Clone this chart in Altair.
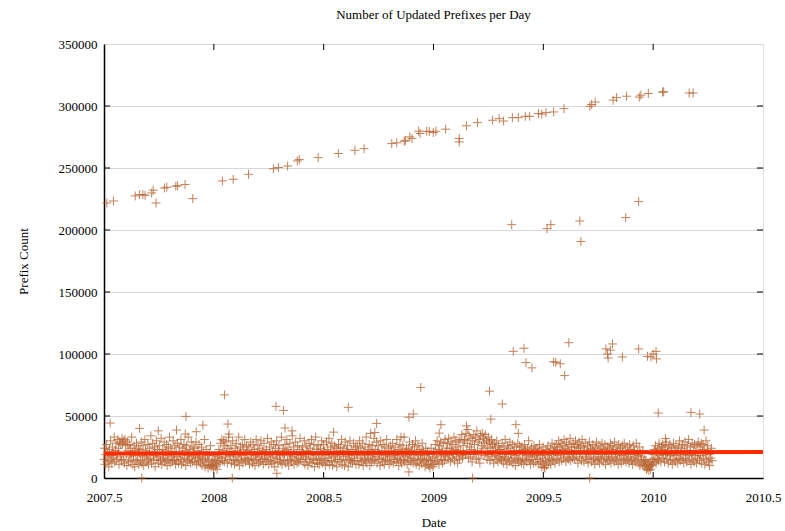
import altair as alt
import pandas as pd

# Daily counts of updated prefixes (thousands), one row per day from 2007-07-01
daily_k = [
    15, 24, 11, 19, 27, 13, 21, 17, 9, 23, 14, 30, 18, 12, 25, 16, 20, 33, 13, 22, 28, 15, 19, 31, 24, 11, 29, 17, 27, 14,
    32, 28, 15, 30, 12, 31, 26, 19, 10, 29, 22, 13, 27, 17, 24, 14, 33, 21, 11, 18, 26, 9, 22, 15, 28, 13, 19, 24, 11, 20,
    23, 14, 29, 12, 18, 26, 10, 17, 31, 22, 13, 20, 15, 27, 11, 19, 24, 16, 34, 12, 21, 28, 14, 18, 25, 9, 20, 30, 15, 23,
    17, 12, 26, 20, 14, 32, 11, 19, 23, 16, 29, 13, 22, 15, 27, 10, 18, 25, 14, 33, 12, 24, 17, 21, 13, 30, 19, 15, 26, 11,
    21, 14, 28, 17, 12, 25, 20, 15, 31, 11, 19, 24, 13, 27, 16, 22, 10, 26, 18, 14, 33, 20, 15, 23, 12, 29, 17, 13, 25, 19,
    24, 13, 18, 29, 11, 16, 22, 14, 27, 19, 12, 17, 25, 10, 15, 21, 13, 31, 9, 16, 23, 11, 18, 8, 14, 20, 10, 26, 9, 13,
    10, 15, 8, 12, 18, 9, 14, 11, 7, 17, 13, 23, 19, 12, 28, 16, 31, 14, 22, 30, 13, 26, 17, 29, 20, 12, 24, 33, 15, 21,
    18, 26, 12, 21, 30, 14, 19, 11, 24, 17, 28, 13, 22, 15, 33, 10, 20, 25, 14, 18, 27, 12, 23, 16, 31, 13, 19, 26, 15, 22,
    14, 25, 11, 19, 29, 16, 21, 12, 27, 15, 23, 10, 18, 31, 14, 20, 26, 12, 17, 24, 13, 30, 19, 15, 22, 11, 28, 16, 20, 13,
    23, 15, 32, 18, 11, 25, 20, 14, 29, 12, 21, 17, 27, 13, 9, 24, 16, 30, 19, 12, 22, 26, 15, 18, 13, 33, 11, 20, 24, 14,
    19, 27, 12, 22, 31, 14, 23, 10, 18, 28, 15, 21, 13, 34, 17, 25, 11, 20, 29, 14, 19, 12, 26, 16, 13, 23, 32, 15, 18, 21,
    25, 13, 19, 30, 11, 17, 26, 15, 22, 10, 20, 28, 13, 24, 16, 31, 12, 21, 15, 27, 9, 18, 33, 14, 23, 12, 26, 19, 11, 16,
    24, 15, 30, 12, 20, 27, 14, 22, 10, 18, 29, 13, 23, 16, 32, 11, 19, 25, 14, 28, 10, 21, 17, 26, 13, 18, 24, 9, 15, 22,
    27, 13, 19, 25, 15, 31, 11, 21, 17, 24, 10, 29, 14, 22, 18, 26, 9, 20, 15, 30, 13, 23, 16, 12, 21, 28, 14, 18, 25, 11,
    20, 26, 14, 22, 11, 30, 16, 24, 13, 18, 28, 10, 21, 15, 25, 14, 33, 12, 19, 23, 16, 27, 10, 18, 22, 13, 26, 15, 20, 32,
    14, 23, 17, 29, 12, 21, 26, 15, 19, 10, 30, 16, 22, 13, 27, 18, 11, 25, 15, 20, 31, 14, 19, 24, 11, 17, 26, 13, 22, 18,
    28, 12, 21, 15, 25, 19, 13, 31, 16, 23, 10, 18, 27, 14, 22, 12, 20, 26, 15, 33, 13, 21, 17, 24, 11, 18, 23, 14, 29, 19,
    13, 22, 16, 27, 12, 19, 25, 15, 30, 11, 21, 14, 26, 18, 10, 23, 15, 20, 12, 28, 16, 22, 13, 18, 9, 24, 14, 11, 21, 15,
    10, 19, 8, 14, 24, 11, 16, 9, 21, 12, 17, 27, 13, 20, 30, 14, 23, 11, 26, 18, 29, 15, 22, 12, 28, 19, 14, 31, 17, 24,
    21, 28, 15, 32, 18, 24, 13, 29, 22, 16, 27, 19, 33, 14, 23, 30, 17, 25, 12, 21, 29, 15, 31, 22, 18, 35, 16, 26, 20, 30,
    31, 19, 36, 21, 28, 39, 16, 34, 25, 17, 32, 23, 13, 30, 19, 35, 27, 20, 33, 15, 38, 22, 29, 16, 31, 12, 34, 20, 26, 36,
    24, 32, 18, 28, 35, 20, 30, 15, 25, 33, 19, 29, 14, 24, 31, 17, 27, 22, 12, 28, 18, 25, 15, 30, 21, 13, 26, 17, 23, 16,
    23, 14, 28, 19, 12, 25, 17, 31, 15, 21, 11, 26, 16, 24, 13, 29, 20, 14, 19, 27, 12, 22, 16, 25, 10, 18, 22, 15, 28, 13,
    20, 26, 14, 22, 12, 25, 16, 21, 11, 27, 15, 23, 18, 13, 24, 19, 30, 14, 22, 11, 17, 25, 15, 20, 12, 26, 18, 23, 13, 19,
    24, 15, 21, 11, 27, 18, 13, 22, 9, 16, 25, 12, 19, 8, 14, 23, 10, 18, 26, 13, 20, 15, 24, 11, 19, 28, 14, 22, 16, 25,
    12, 21, 27, 15, 23, 18, 30, 13, 25, 19, 28, 14, 22, 26, 16, 31, 20, 24, 13, 29, 17, 23, 15, 27, 19, 32, 14, 25, 21, 16,
    28, 19, 25, 15, 30, 22, 17, 27, 12, 24, 29, 16, 21, 26, 14, 31, 19, 25, 13, 22, 28, 17, 20, 15, 26, 12, 21, 29, 16, 24,
    19, 13, 23, 27, 15, 21, 11, 25, 17, 29, 14, 22, 16, 26, 12, 19, 24, 15, 28, 20, 13, 23, 17, 27, 11, 21, 16, 25, 14, 19,
    24, 15, 28, 12, 20, 26, 17, 23, 13, 29, 16, 21, 14, 25, 19, 11, 27, 20, 15, 24, 12, 18, 26, 21, 14, 28, 16, 22, 13, 19,
    25, 15, 21, 12, 27, 17, 23, 14, 20, 11, 26, 16, 22, 13, 19, 28, 15, 21, 12, 18, 25, 10, 20, 14, 17, 11, 22, 13, 9, 15,
    10, 14, 7, 12, 8, 11, 6, 9, 13, 7, 10, 15, 11, 19, 13, 23, 16, 26, 12, 21, 15, 24, 14, 28, 18, 22, 13, 25, 19, 27,
    16, 23, 13, 26, 19, 29, 15, 21, 12, 25, 18, 27, 14, 20, 24, 11, 19, 28, 15, 22, 13, 26, 18, 21, 12, 25, 16, 30, 14, 20,
    24, 15, 27, 19, 12, 22, 29, 16, 21, 13, 26, 18, 31, 14, 20, 25, 11, 19, 28, 15, 22, 13, 27, 18, 21, 12, 26, 16, 29, 20,
    14, 25, 18, 28, 12, 21, 27, 16, 23, 11, 20, 30, 15, 22, 26, 13, 19, 10, 21, 16, 24, 14,
]

# Upper band: full-table size reports (decimal year, thousands)
upper_year = [
    2007.513, 2007.543, 2007.642, 2007.662, 2007.677, 2007.687, 2007.717, 2007.724, 2007.737, 2007.775,
    2007.786, 2007.827, 2007.835, 2007.869, 2007.904, 2008.039, 2008.088, 2008.158, 2008.271, 2008.294,
    2008.336, 2008.380, 2008.389, 2008.475, 2008.567, 2008.642, 2008.684, 2008.810, 2008.833, 2008.867,
    2008.872, 2008.892, 2008.902, 2008.932, 2008.939, 2008.969, 2008.981, 2008.999, 2009.011, 2009.055,
    2009.117, 2009.117, 2009.150, 2009.200, 2009.269, 2009.299, 2009.319, 2009.359, 2009.386, 2009.418,
    2009.438, 2009.478, 2009.493, 2009.512, 2009.547, 2009.594, 2009.712, 2009.720, 2009.736, 2009.818,
    2009.833, 2009.879, 2009.937, 2009.944, 2009.978, 2010.043, 2010.048, 2010.164, 2010.182,
]
upper_k = [
    221.8, 223.4, 227.5, 228.5, 228.5, 228.0, 229.9, 232.1, 221.8, 233.9,
    234.5, 235.3, 235.7, 236.7, 225.3, 239.6, 240.9, 244.9, 249.4, 250.4,
    251.6, 255.7, 256.8, 258.4, 261.7, 264.3, 265.6, 269.7, 270.3, 271.6,
    272.3, 275.1, 273.8, 279.7, 277.8, 279.7, 279.3, 278.6, 279.7, 281.3,
    273.8, 271.0, 284.0, 286.6, 288.5, 289.8, 287.9, 290.6, 290.6, 291.7,
    291.7, 293.9, 293.5, 294.7, 295.2, 297.9, 299.8, 301.2, 303.2, 304.7,
    306.8, 307.9, 307.2, 308.7, 310.1, 311.1, 311.6, 310.5, 310.5,
]

# Isolated readings away from the two bands (decimal year, thousands)
mid_year = [
    2009.356, 2009.517, 2009.534, 2009.666, 2009.671, 2009.875, 2009.934,
    2009.363, 2009.412, 2009.421, 2009.448, 2009.547, 2009.557, 2009.577, 2009.597, 2009.616,
    2009.785, 2009.792, 2009.795, 2009.805, 2009.815, 2009.860, 2009.934, 2009.974, 2009.990,
    2010.000, 2010.013, 2010.015,
    2007.528, 2007.662, 2007.747, 2007.830, 2007.873, 2007.870, 2007.920, 2007.950, 2008.049,
    2008.064, 2008.069, 2008.283, 2008.317, 2008.324, 2008.356, 2008.545, 2008.612, 2008.714,
    2008.733, 2008.741, 2008.852, 2008.888, 2008.908, 2008.942, 2009.026, 2009.034, 2009.150,
    2009.255, 2009.261, 2009.313, 2009.375, 2009.386, 2010.023, 2010.056, 2010.172, 2010.212,
    2010.232,
    2007.672, 2008.084, 2008.287, 2008.888, 2009.178, 2009.711, 2009.504,
]
mid_k = [
    204.3, 201.1, 204.3, 207.3, 190.7, 210.0, 222.9,
    102.1, 104.6, 93.1, 88.8, 93.8, 93.3, 92.1, 82.6, 109.1,
    104.1, 100.0, 96.8, 103.1, 108.1, 97.6, 104.1, 98.1, 97.6,
    100.0, 102.1, 96.1,
    44.3, 40.0, 38.0, 38.6, 49.7, 35.4, 37.3, 42.7, 67.0,
    43.5, 35.4, 57.8, 54.5, 40.3, 38.0, 37.0, 57.0, 36.0,
    36.7, 44.0, 33.0, 49.0, 51.6, 73.0, 36.2, 43.0, 42.0,
    70.0, 47.5, 59.7, 43.0, 36.0, 52.4, 31.8, 52.9, 51.6,
    38.6,
    0.0, 0.0, 3.8, 4.9, 0.0, 0.0, 8.4,
]

# Least-squares trend of the daily counts
trend_year = [2007.5, 2010.5]
trend_count = [19700, 21000]

x_ticks = [2007.5, 2008, 2008.5, 2009, 2009.5, 2010, 2010.5]
y_ticks = [0, 50000, 100000, 150000, 200000, 250000, 300000, 350000]

W, H = 659, 434
FONT = "Liberation Serif"
POINT_COLOR = "#b8622f"

years = [2007.5 + i / 365.25 for i in range(len(daily_k))] + upper_year + mid_year
counts = [k * 1000 for k in daily_k + upper_k + mid_k]
points = pd.DataFrame({"year": years, "count": counts})
trend = pd.DataFrame({"year": trend_year, "count": trend_count})

x_scale = alt.Scale(domain=[2007.5, 2010.5], nice=False, zero=False)
y_scale = alt.Scale(domain=[0, 350000], nice=False)

x_axis = alt.Axis(
    values=x_ticks, labelExpr="datum.value + ''", grid=False, tickSize=0,
    labelFlush=False, labelOverlap=False,
    domainColor="black", domainWidth=1.5, labelFont=FONT, labelFontSize=13,
    labelColor="black", labelPadding=13, title="Date", titleFont=FONT,
    titleFontSize=13, titleFontWeight="normal", titleColor="black", titlePadding=12,
)
y_axis = alt.Axis(
    values=y_ticks, format="d", grid=True, gridColor="#d6d6d6", gridWidth=1,
    labelFlush=False, labelOverlap=False,
    tickSize=0, domainColor="black", domainWidth=1.5, labelFont=FONT,
    labelFontSize=13, labelColor="black", labelPadding=7, title="Prefix Count",
    titleFont=FONT, titleFontSize=13, titleFontWeight="normal", titleColor="black",
    titlePadding=28,
)

cross = "M-1,0L1,0M0,-1L0,1"
scatter = alt.Chart(points).mark_point(
    shape=cross, filled=False, size=80, strokeWidth=1, color=POINT_COLOR, opacity=0.8
).encode(
    x=alt.X("year:Q", scale=x_scale, axis=x_axis),
    y=alt.Y("count:Q", scale=y_scale, axis=y_axis),
)

trend_line = alt.Chart(trend).mark_line(color="#ff2a00", strokeWidth=4).encode(
    x=alt.X("year:Q", scale=x_scale),
    y=alt.Y("count:Q", scale=y_scale),
)

# Inward tick marks on all four sides of the frame
xt = pd.DataFrame({"v": x_ticks[1:-1]})
yt = pd.DataFrame({"v": y_ticks[1:-1]})
tick_style = dict(color="black", strokeWidth=1)
ticks_bottom = alt.Chart(xt).mark_rule(**tick_style).encode(
    x=alt.X("v:Q", scale=x_scale), y=alt.value(H), y2=alt.value(H - 6))
ticks_top = alt.Chart(xt).mark_rule(**tick_style).encode(
    x=alt.X("v:Q", scale=x_scale), y=alt.value(0), y2=alt.value(6))
ticks_left = alt.Chart(yt).mark_rule(**tick_style).encode(
    y=alt.Y("v:Q", scale=y_scale), x=alt.value(0), x2=alt.value(6))
ticks_right = alt.Chart(yt).mark_rule(**tick_style).encode(
    y=alt.Y("v:Q", scale=y_scale), x=alt.value(W), x2=alt.value(W - 6))

chart = alt.layer(
    scatter, trend_line, ticks_bottom, ticks_top, ticks_left, ticks_right
).properties(
    width=W,
    height=H,
    title=alt.TitleParams(
        "Number of Updated Prefixes per Day", font=FONT, fontSize=13,
        fontWeight="normal", color="black", offset=16, anchor="middle",
    ),
    autosize=alt.AutoSizeParams(type="none"),
    padding={"left": 104, "top": 44, "right": 22, "bottom": 53},
).configure_view(
    stroke="black", strokeWidth=1
).configure(background="white")

chart.save("out.html", embed_options={"renderer": "svg", "actions": False})
